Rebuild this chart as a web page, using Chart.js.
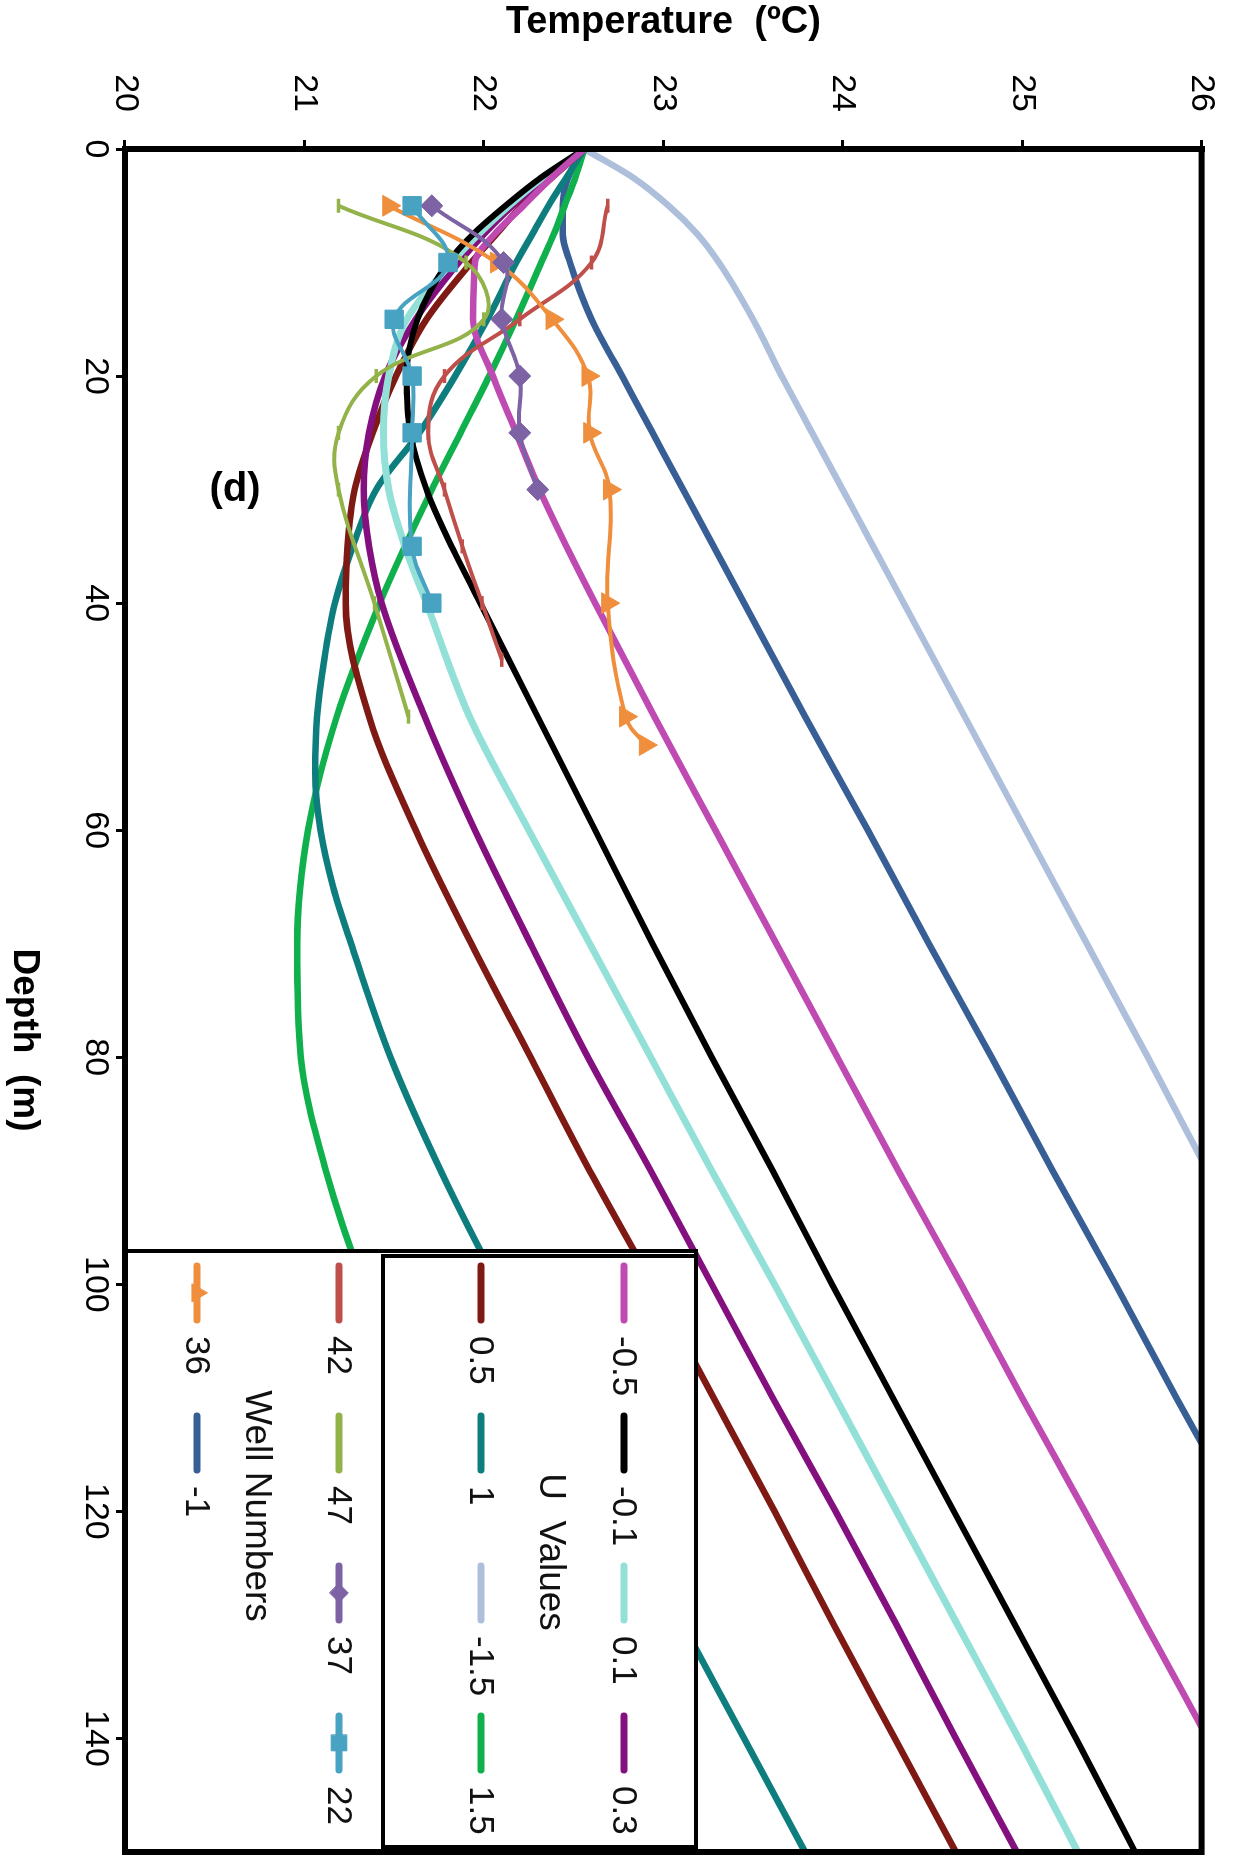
<!DOCTYPE html>
<html>
<head>
<meta charset="utf-8">
<title>Temperature profiles</title>
<script src="https://cdn.jsdelivr.net/npm/chart.js@4.4.0/dist/chart.umd.min.js"></script>
<style>
html, body { margin: 0; padding: 0; background: #fff; }
body { width: 1250px; height: 1866px; overflow: hidden; position: relative; }
/* the chart is drawn landscape (depth along x) and turned a quarter clockwise */
#turn { position: absolute; left: -308px; top: 308px; width: 1866px; height: 1250px; transform: rotate(90deg); }
</style>
</head>
<body>
<div id="turn"><canvas id="profileChart" width="1866" height="1250"></canvas></div>
<script>
// depth (m) and temperature (C)
var uDepth = [0, 2.5, 5, 7.5, 10, 15, 20, 25, 30, 35, 40, 50, 60, 70, 80, 90, 100, 110, 120, 130, 140, 150];
var uNeg01 = [22.56, 22.32, 22.12, 21.94, 21.80, 21.63, 21.57, 21.59, 21.68, 21.82, 21.98, 22.30, 22.62, 22.94, 23.27, 23.61, 23.94, 24.28, 24.62, 24.96, 25.30, 25.63];
var uPos01 = [22.56, 22.33, 22.14, 21.97, 21.82, 21.57, 21.47, 21.44, 21.47, 21.56, 21.68, 21.92, 22.25, 22.59, 22.93, 23.27, 23.62, 23.96, 24.30, 24.64, 24.98, 25.31];
var uPos03 = [22.56, 22.35, 22.16, 22.00, 21.86, 21.62, 21.45, 21.36, 21.33, 21.36, 21.43, 21.67, 21.95, 22.26, 22.58, 22.93, 23.27, 23.61, 23.96, 24.30, 24.63, 24.97];
var uPos05 = [22.56, 22.38, 22.21, 22.07, 21.93, 21.68, 21.51, 21.38, 21.28, 21.24, 21.23, 21.36, 21.62, 21.93, 22.26, 22.59, 22.94, 23.28, 23.62, 23.95, 24.29, 24.63];
var uPos15 = [22.56, 22.51, 22.45, 22.39, 22.32, 22.18, 22.03, 21.87, 21.71, 21.56, 21.42, 21.18, 21.02, 20.96, 20.98, 21.12, 21.33, 21.60, 21.90, 22.23, 22.58, 22.93];

var posOneDepth = [0, 2.5, 5, 7.5, 10, 15, 20, 25, 30, 35, 40, 45, 50, 55, 60, 65, 70, 80, 90, 100, 110, 120, 130, 140, 150];
var uPos1 = [22.56, 22.46, 22.36, 22.27, 22.18, 22.02, 21.84, 21.64, 21.40, 21.27, 21.17, 21.11, 21.07, 21.06, 21.09, 21.16, 21.26, 21.48, 21.76, 22.08, 22.43, 22.77, 23.11, 23.45, 23.79];
var negHalfDepth = [0, 2.5, 5, 7.5, 10, 15, 20, 25, 30, 35, 40, 50, 60, 70, 80, 90, 100, 110, 120, 130, 139];
var uNeg05 = [22.56, 22.38, 22.22, 22.06, 21.95, 21.94, 22.05, 22.18, 22.31, 22.46, 22.62, 22.95, 23.29, 23.63, 23.97, 24.31, 24.66, 25.00, 25.35, 25.69, 26.0];
var negOneDepth = [0, 2.5, 5, 7.5, 10, 15, 20, 25, 30, 35, 40, 50, 60, 70, 80, 90, 100, 110, 114];
var uNeg1 = [22.56, 22.47, 22.44, 22.44, 22.48, 22.60, 22.77, 22.94, 23.11, 23.28, 23.45, 23.79, 24.14, 24.48, 24.83, 25.17, 25.52, 25.86, 26.0];
var negOneHalfDepth = [0, 2.5, 5, 7.5, 10, 15, 20, 25, 30, 35, 40, 50, 60, 70, 80, 89];
var uNeg15 = [22.56, 22.83, 23.03, 23.19, 23.31, 23.50, 23.66, 23.83, 24.00, 24.17, 24.34, 24.68, 25.02, 25.36, 25.70, 26.0];

// measured wells
var well36Depth = [5, 10, 15, 20, 25, 30, 40, 50, 52.5];
var well36Temp  = [21.47, 22.07, 22.38, 22.58, 22.59, 22.70, 22.69, 22.79, 22.90];
var well42Depth = [5, 10, 15, 20, 25, 30, 35, 40, 45];
var well42Temp  = [22.69, 22.60, 22.20, 21.78, 21.69, 21.78, 21.88, 21.99, 22.10];
var well47Depth = [5, 10, 15, 20, 25, 30, 40, 50];
var well47Temp  = [21.19, 21.90, 22.00, 21.40, 21.19, 21.19, 21.39, 21.58];
var well37Depth = [5, 10, 15, 20, 25, 30];
var well37Temp  = [21.71, 22.11, 22.10, 22.20, 22.20, 22.30];
var well22Depth = [5, 10, 15, 20, 25, 35, 40];
var well22Temp  = [21.60, 21.80, 21.50, 21.60, 21.60, 21.60, 21.71];

var depthTicks = [0, 20, 40, 60, 80, 100, 120, 140];
var tempTicks = [20, 21, 22, 23, 24, 25, 26];

// legend layout, row by row
var legendRows = [['-0.5', '-0.1', '0.1', '0.3'], ['0.5', '1', '-1.5', '1.5'], ['42', '47', '37', '22'], ['36', '-1']];

var FONT = '"Liberation Sans", Arial, sans-serif';

function pts(depths, temps) {
    return depths.map(function(d, i) { return { x: d, y: temps[i] }; });
}

function curve(label, depths, temps, color, width) {
    return { label: label, data: pts(depths, temps), borderColor: color, backgroundColor: color,
             borderWidth: width || 6.5, pointRadius: 0, cubicInterpolationMode: 'monotone', showLine: true };
}

function well(label, depths, temps, color, style, radius) {
    return { label: label, data: pts(depths, temps), borderColor: color, backgroundColor: color,
             borderWidth: 4, pointStyle: style, pointRadius: radius, pointBorderWidth: style == 'line' ? 3.5 : 1,
             pointBackgroundColor: color, pointBorderColor: color, tension: 0.4, showLine: true };
}

var datasets = [
    well('22', well22Depth, well22Temp, '#48a2c2', 'rect', 13),
    well('37', well37Depth, well37Temp, '#7d62a4', 'rectRot', 11),
    well('36', well36Depth, well36Temp, '#ef8e3c', 'triangle', 12),
    well('47', well47Depth, well47Temp, '#93b24a', 'line', 7),
    well('42', well42Depth, well42Temp, '#bf4f4a', 'line', 7),
    curve('-0.5', negHalfDepth, uNeg05, '#be4ab2'),
    curve('-0.1', uDepth, uNeg01, '#000000', 6),
    curve('0.1', uDepth, uPos01, '#93e0d8', 7),
    curve('0.3', uDepth, uPos03, '#84107f'),
    curve('0.5', uDepth, uPos05, '#7f1913'),
    curve('1', posOneDepth, uPos1, '#0e7d7d'),
    curve('1.5', uDepth, uPos15, '#10b14c'),
    curve('-1', negOneDepth, uNeg1, '#385f95'),
    curve('-1.5', negOneHalfDepth, uNeg15, '#adbfdb')
];

function marker(ctx, ds, x, y) {
    if (!ds.pointRadius) return;
    ctx.fillStyle = ds.borderColor;
    ctx.strokeStyle = ds.borderColor;
    ctx.lineWidth = ds.pointBorderWidth;
    Chart.helpers.drawPoint(ctx, { pointStyle: ds.pointStyle, radius: ds.pointRadius * 0.85, borderWidth: ds.pointBorderWidth, rotation: 0 }, x, y);
}

// frame, legend boxes and the loose labels
var extras = {
    id: 'extras',
    afterDatasetsDraw: function(chart) {
        var ctx = chart.ctx, a = chart.chartArea;
        var L = a.right - 601, T = a.bottom - 571;
        var rowY = [T + 72, T + 215, T + 357, T + 499];
        ctx.save();

        ctx.fillStyle = '#fff';
        ctx.fillRect(L, T, a.right - L, a.bottom - T);
        ctx.strokeStyle = '#000';
        ctx.lineWidth = 4;
        ctx.strokeRect(L, T, a.right - L, a.bottom - T);
        ctx.strokeRect(L + 5, T, a.right - L - 10, 313);

        legendRows.forEach(function(row, r) {
            row.forEach(function(label, c) {
                var ds = datasets.filter(function(d) { return d.label == label; })[0];
                var x0 = L + 15 + c * 150, y = rowY[r];
                ctx.strokeStyle = ds.borderColor;
                ctx.lineWidth = 7;
                ctx.lineCap = 'round';
                ctx.beginPath();
                ctx.moveTo(x0, y);
                ctx.lineTo(x0 + 54, y);
                ctx.stroke();
                marker(ctx, ds, x0 + 27, y);
                ctx.fillStyle = '#111';
                ctx.font = '35px ' + FONT;
                ctx.textAlign = 'left';
                ctx.textBaseline = 'middle';
                ctx.fillText(label, x0 + 70, y + 1);
            });
        });

        ctx.fillStyle = '#111';
        ctx.textAlign = 'center';
        ctx.textBaseline = 'middle';
        ctx.font = '37px ' + FONT;
        ctx.fillText('U  Values', L + 301, T + 146);
        ctx.fillText('Well Numbers', L + 255, T + 440);

        ctx.strokeStyle = '#000';
        ctx.lineWidth = 6;
        ctx.strokeRect(a.left, a.top, a.right - a.left, a.bottom - a.top);

        ctx.fillStyle = '#000';
        ctx.font = 'bold 37px ' + FONT;
        ctx.fillText('Depth  (m)', 1040, 1226);

        ctx.translate(490, 1015);
        ctx.rotate(-Math.PI / 2);
        ctx.font = 'bold 40px ' + FONT;
        ctx.fillText('(d)', 0, 0);
        ctx.restore();
    }
};

var ctx = document.getElementById('profileChart').getContext('2d');
var profileChart = new Chart(ctx, {
    type: 'scatter',
    data: { datasets: datasets },
    options: {
        responsive: false,
        animation: false,
        devicePixelRatio: 1,
        layout: { padding: { top: 19, right: 9, left: 0, bottom: 0 } },
        plugins: { legend: { display: false }, tooltip: { enabled: false } },
        scales: {
            x: {
                type: 'linear', position: 'bottom',
                min: depthTicks[0], max: 150,
                afterBuildTicks: function(s) { s.ticks = depthTicks.map(function(v) { return { value: v }; }); },
                ticks: { color: '#000', font: { size: 34, family: FONT }, padding: 0, maxRotation: 0 },
                grid: { drawOnChartArea: false, tickLength: 9, tickWidth: 3, tickColor: '#000' },
                border: { color: '#000', width: 6 },
                afterFit: function(s) { s.height = 125; }
            },
            y: {
                type: 'linear', position: 'left',
                min: tempTicks[0], max: tempTicks[tempTicks.length - 1],
                afterBuildTicks: function(s) { s.ticks = tempTicks.map(function(v) { return { value: v }; }); },
                ticks: { color: '#000', font: { size: 34, family: FONT }, padding: 28 },
                grid: { drawOnChartArea: false, tickLength: 9, tickWidth: 3, tickColor: '#000' },
                border: { color: '#000', width: 6 },
                title: { display: true, text: 'Temperature  (\u00BAC)', color: '#000', font: { size: 38, weight: 'bold', family: FONT }, padding: 0 },
                afterFit: function(s) { s.width = 149; }
            }
        }
    },
    plugins: [extras]
});
</script>
</body>
</html>
